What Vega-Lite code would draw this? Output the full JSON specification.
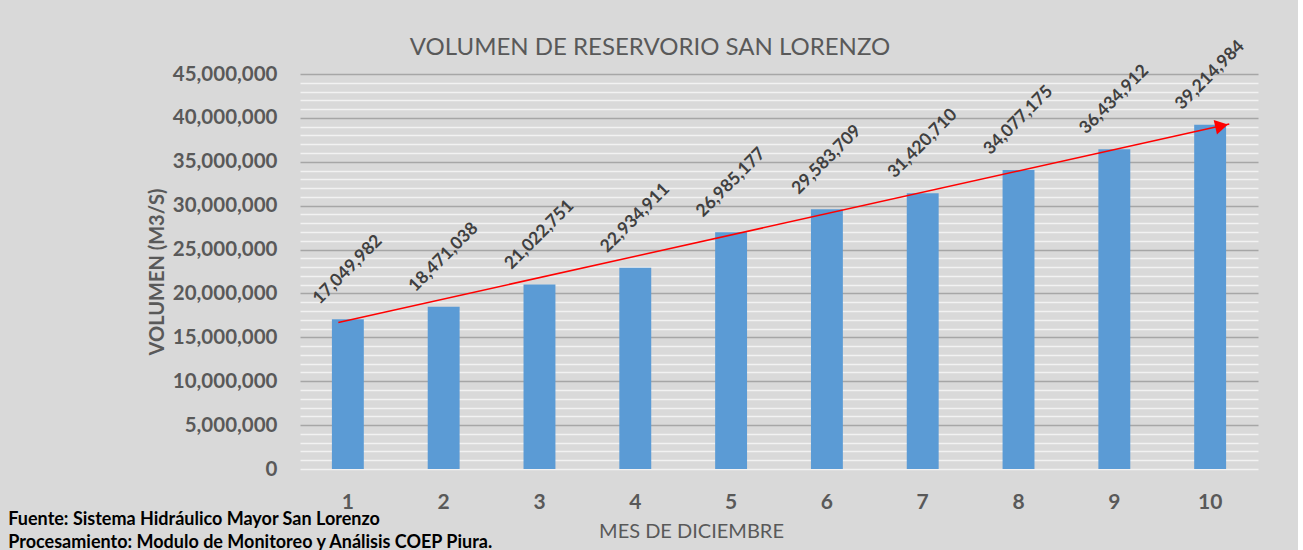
{
  "$schema": "https://vega.github.io/schema/vega-lite/v6.json",
  "background": "#d9d9d9",
  "padding": {"left": 8, "top": 36, "right": 40, "bottom": 5},
  "title": {
    "text": ["Fuente: Sistema Hidráulico Mayor San Lorenzo", "Procesamiento: Modulo de Monitoreo y Análisis COEP Piura."],
    "orient": "bottom",
    "anchor": "start",
    "frame": "bounds",
    "font": "Lato",
    "fontSize": 18,
    "fontWeight": "bold",
    "color": "#000000",
    "lineHeight": 23,
    "offset": -30,
    "dx": -139
  },
  "vconcat": [
    {
      "width": 958,
      "height": 395,
      "title": {
        "text": "VOLUMEN DE RESERVORIO SAN LORENZO",
        "font": "Lato",
        "fontSize": 24,
        "fontWeight": "normal",
        "color": "#595959",
        "offset": -23,
        "dx": -129
      },
      "layer": [
        {
          "data": {"values": [
            {"dia": 1, "volumen": 17049982},
            {"dia": 2, "volumen": 18471038},
            {"dia": 3, "volumen": 21022751},
            {"dia": 4, "volumen": 22934911},
            {"dia": 5, "volumen": 26985177},
            {"dia": 6, "volumen": 29583709},
            {"dia": 7, "volumen": 31420710},
            {"dia": 8, "volumen": 34077175},
            {"dia": 9, "volumen": 36434912},
            {"dia": 10, "volumen": 39214984}
          ]},
          "layer": [
            {
              "mark": {"type": "bar", "color": "#5b9bd5"},
              "encoding": {
                "x": {
                  "field": "dia", "type": "ordinal",
                  "scale": {"paddingInner": 0.667, "paddingOuter": 0.333},
                  "axis": {
                    "title": "MES DE DICIEMBRE",
                    "labelAngle": 0,
                    "labelFont": "Lato", "labelFontSize": 21, "labelFontWeight": "bold", "labelColor": "#595959",
                    "labelPadding": 22,
                    "ticks": false, "domain": false,
                    "titleFont": "Lato", "titleFontSize": 20, "titleFontWeight": "normal", "titleColor": "#595959",
                    "titleX": 391, "titleAlign": "center", "titlePadding": 9
                  }
                },
                "y": {
                  "field": "volumen", "type": "quantitative",
                  "scale": {"domain": [0, 45000000], "nice": false},
                  "axis": {
                    "title": "VOLUMEN (M3/S)",
                    "values": [0,1000000,2000000,3000000,4000000,5000000,6000000,7000000,8000000,9000000,10000000,11000000,12000000,13000000,14000000,15000000,16000000,17000000,18000000,19000000,20000000,21000000,22000000,23000000,24000000,25000000,26000000,27000000,28000000,29000000,30000000,31000000,32000000,33000000,34000000,35000000,36000000,37000000,38000000,39000000,40000000,41000000,42000000,43000000,44000000,45000000],
                    "tickCount": 100,
                    "labelExpr": "datum.value % 5000000 === 0 ? format(datum.value, ',') : ''",
                    "labelOverlap": false,
                    "labelBound": false,
                    "labelFont": "Lato", "labelFontSize": 20.5, "labelFontWeight": "bold", "labelColor": "#595959",
                    "labelPadding": 23,
                    "ticks": false, "domain": false,
                    "gridColor": {"condition": {"test": "datum.value % 5000000 === 0 && datum.value > 0", "value": "#a6a6a6"}, "value": "#f2f2f2"},
                    "gridWidth": 1.5,
                    "titleFont": "Lato", "titleFontSize": 20, "titleFontWeight": "bold", "titleColor": "#595959",
                    "titlePadding": 5
                  }
                }
              }
            },
            {
              "mark": {"type": "text", "angle": -45, "align": "center", "baseline": "middle", "dx": 35, "dy": -35, "font": "Lato", "fontSize": 17.5, "fontWeight": "bold", "color": "#404040"},
              "encoding": {
                "x": {"field": "dia", "type": "ordinal"},
                "y": {"field": "volumen", "type": "quantitative"},
                "text": {"field": "volumen", "type": "quantitative", "format": ","}
              }
            }
          ]
        },
        {
          "data": {"values": [
            {"px": 0.9, "yv": 16700000, "part": "linea"},
            {"px": 10.2, "yv": 39300000, "part": "linea"}
          ]},
          "mark": {"type": "line", "color": "#ff0000", "strokeWidth": 1.5},
          "encoding": {
            "x": {"field": "px", "type": "quantitative", "scale": {"domain": [0.5, 10.5], "nice": false, "zero": false}, "axis": null},
            "y": {"field": "yv", "type": "quantitative"}
          }
        },
        {
          "data": {"values": [
            {"px": 10.12, "yv": 39100000}
          ]},
          "mark": {"type": "point", "shape": "triangle-right", "filled": true, "color": "#ff0000", "opacity": 1, "size": 220, "angle": -12.6},
          "encoding": {
            "x": {"field": "px", "type": "quantitative", "scale": {"domain": [0.5, 10.5], "nice": false, "zero": false}, "axis": null},
            "y": {"field": "yv", "type": "quantitative"}
          }
        }
      ],
      "resolve": {"scale": {"x": "independent"}}
    }
  ],
  "config": {
    "view": {"stroke": null},
    "concat": {"spacing": 0}
  }
}
